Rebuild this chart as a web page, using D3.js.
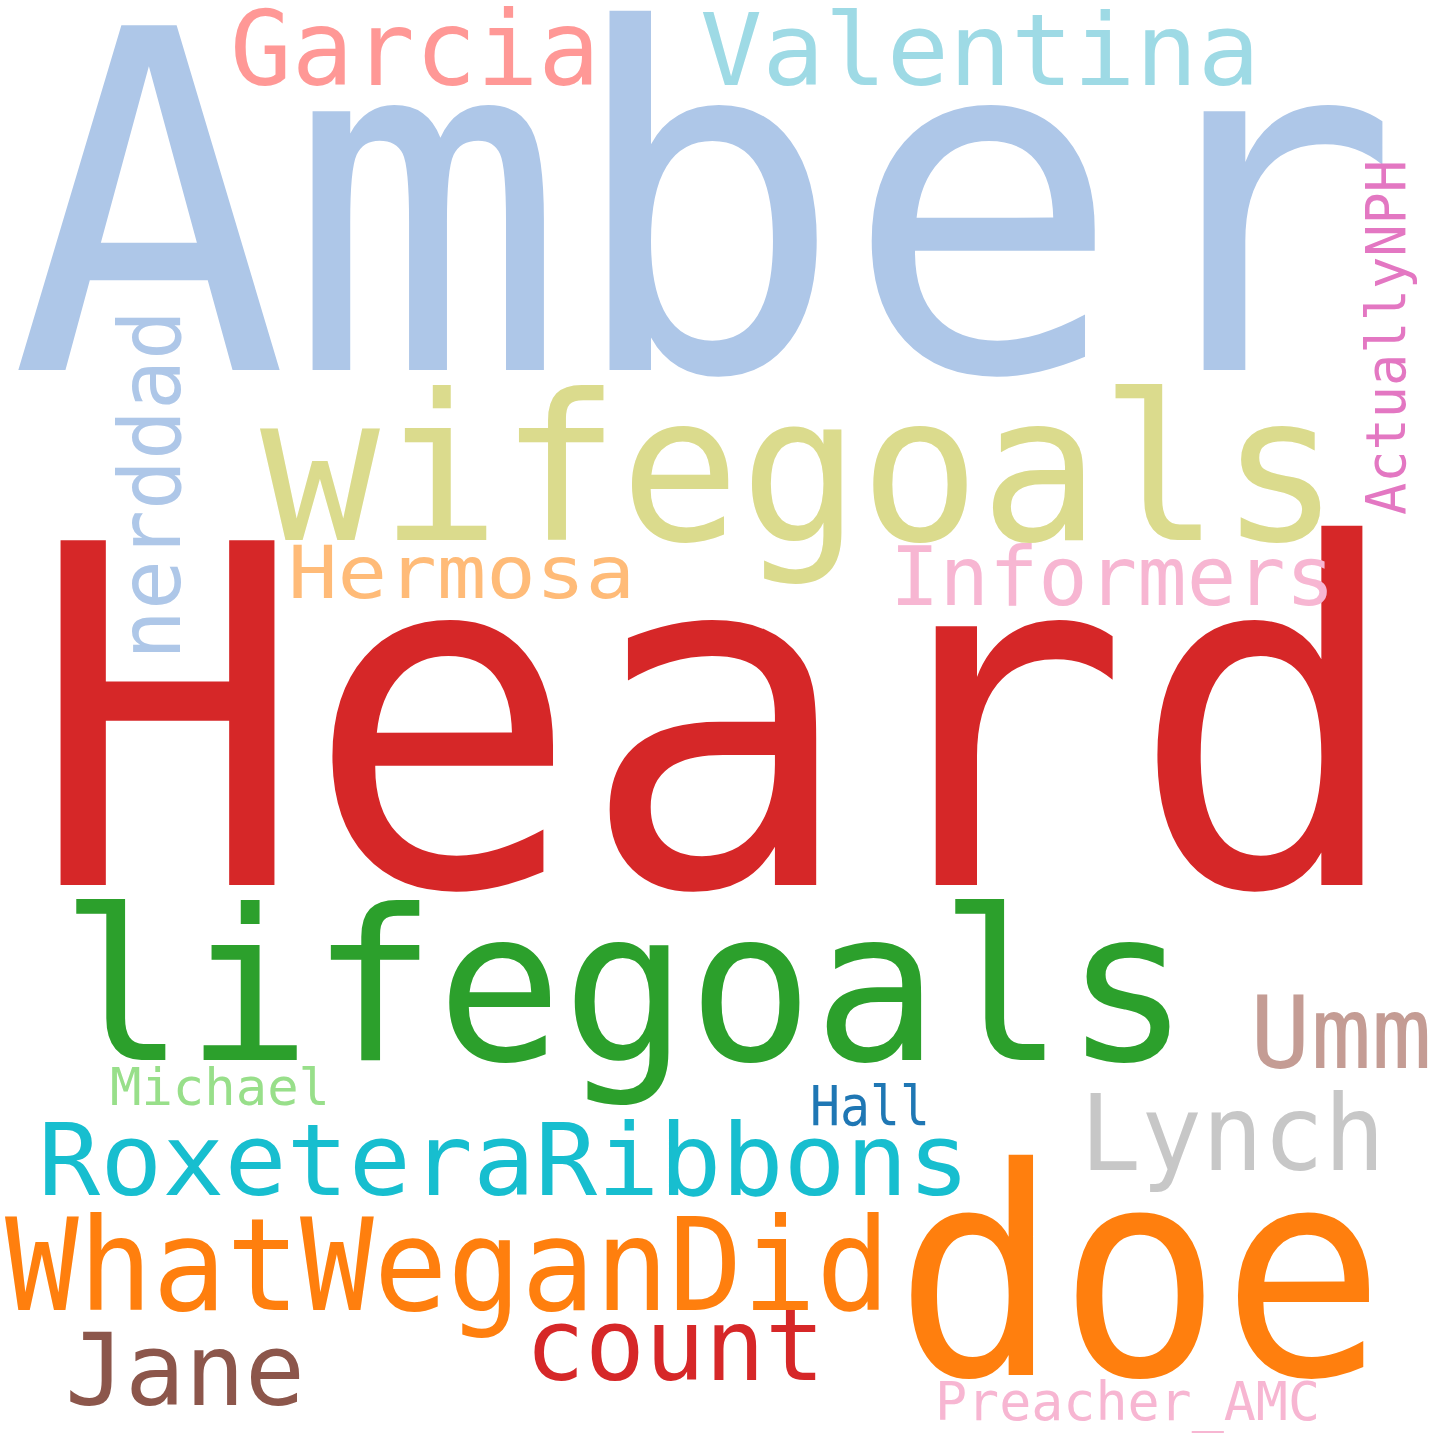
<!DOCTYPE html>
<html><head><meta charset="utf-8">
<script src="https://cdn.jsdelivr.net/npm/d3@7"></script>
<style>body{margin:0;background:#fff}</style></head>
<body><svg id="c" width="1440" height="1440"></svg>
<script>
const words = ["Amber","Heard","wifegoals","lifegoals","doe","Garcia","Valentina","Hermosa","Informers","nerddad","ActuallyNPH","Umm","Michael","Hall","Lynch","RoxeteraRibbons","WhatWeganDid","count","Jane","Preacher_AMC"];
const sizes = [473,473,204,210,290,103,100,73,82,85,55,100,52,55,105,100,128,100,100,53];
const colors = ["#aec7e8","#d62728","#dbdb8d","#2ca02c","#ff7f0e","#ff9896","#9edae5","#ffbb78","#f7b6d2","#aec7e8","#e377c2","#c49c94","#98df8a","#1f77b4","#c7c7c7","#17becf","#ff7f0e","#d62728","#8c564b","#f7b6d2"];
// layout: [x, baselineY, width, rotate]
const layout = [
 [10,370,1390,0],[30,885,1375,0],[260,540,1080,0],[60,1060,1130,0],[895,1375,490,0],
 [230,85,370,0],[700,85,560,0],[288,598,347,0],[890,605,445,0],[180,660,350,-90],
 [1405,515,355,-90],[1250,1068,182,0],[110,1105,220,0],[810,1125,120,0],[1080,1170,305,0],
 [38,1195,932,0],[5,1310,885,0],[525,1380,300,0],[65,1405,240,0],[935,1420,385,0]];
const data = words.map((w,i)=>({text:w,size:sizes[i],color:colors[i],l:layout[i]}));
const fs = d3.scaleLinear().domain([0,1]).range([0,1]);
d3.select("#c").selectAll("text").data(data).join("text")
 .attr("transform",d=>`translate(${d.l[0]},${d.l[1]}) rotate(${d.l[3]})`)
 .attr("font-family","'DejaVu Sans Mono', monospace")
 .attr("font-size",d=>fs(d.size))
 .attr("fill",d=>d.color)
 .attr("textLength",d=>d.l[2])
 .attr("lengthAdjust","spacingAndGlyphs")
 .text(d=>d.text);
</script></body></html>
